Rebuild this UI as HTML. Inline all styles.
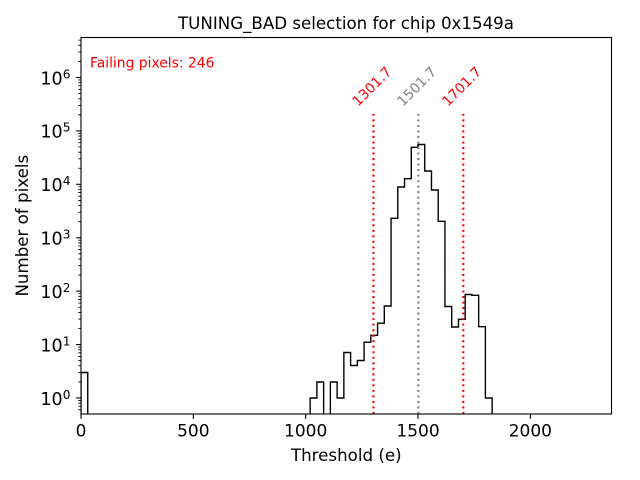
<!DOCTYPE html>
<html>
<head>
<meta charset="utf-8">
<style>
  html, body { margin: 0; padding: 0; background: #ffffff; }
  svg { display: block; }
  text { font-family: "DejaVu Sans", "Liberation Sans", sans-serif; }
</style>
</head>
<body>
<svg width="640" height="480" viewBox="0 0 640 480" xmlns="http://www.w3.org/2000/svg">
  <rect x="0" y="0" width="640" height="480" fill="#ffffff"/>
  <defs>
    <clipPath id="ax">
      <rect x="81" y="37.5" width="530.5" height="376.5"/>
    </clipPath>
  </defs>

  <!-- histogram -->
  <path clip-path="url(#ax)" fill="none" stroke="#000000" stroke-width="1.39" stroke-linejoin="miter"
    d="M81,420 V372.5 H87.74 V420 H310.16 V398 H316.9 V382 H323.64 V420 H330.38 V382 H337.12 V398 H343.86 V352.5 H350.6 V365.5 H357.34 V360.5 H364.08 V342.2 H370.82 V335.3 H377.56 V323.2 H384.3 V306 H391.04 V218.3 H397.78 V187 H404.52 V178.7 H411.26 V147.3 H418 V144.5 H424.74 V171 H431.48 V190 H438.22 V221.3 H444.96 V306.5 H451.7 V327 H458.44 V319.3 H465.18 V294.5 H471.92 V295.3 H478.66 V326.7 H485.4 V398 H492.14 V420"/>

  <!-- dotted vertical lines -->
  <g clip-path="url(#ax)" stroke-width="2.08" stroke-dasharray="2.08 3.44" fill="none">
    <line x1="373.45" y1="414" x2="373.45" y2="113.3" stroke="#ff0000"/>
    <line x1="418.38" y1="414" x2="418.38" y2="113.3" stroke="#808080"/>
    <line x1="463.32" y1="414" x2="463.32" y2="113.3" stroke="#ff0000"/>
  </g>

  <!-- rotated labels -->
  <g font-size="13.89">
    <text transform="translate(371.6,86.2) rotate(-45)" text-anchor="middle" y="5.07" fill="#ff0000">1301.7</text>
    <text transform="translate(416.5,86.2) rotate(-45)" text-anchor="middle" y="5.07" fill="#808080">1501.7</text>
    <text transform="translate(461.5,86.2) rotate(-45)" text-anchor="middle" y="5.07" fill="#ff0000">1701.7</text>
  </g>

  <!-- failing pixels text -->
  <text x="90" y="67.3" font-size="13.89" fill="#ff0000">Failing pixels: 246</text>

  <!-- spines -->
  <rect x="81" y="37.5" width="530.5" height="376.5" fill="none" stroke="#000000" stroke-width="1.11"/>

  <!-- x ticks -->
  <g stroke="#000000" stroke-width="1.11">
    <line x1="81" y1="414" x2="81" y2="418.86"/>
    <line x1="193.34" y1="414" x2="193.34" y2="418.86"/>
    <line x1="305.67" y1="414" x2="305.67" y2="418.86"/>
    <line x1="418.01" y1="414" x2="418.01" y2="418.86"/>
    <line x1="530.34" y1="414" x2="530.34" y2="418.86"/>
  </g>
  <g font-size="17" text-anchor="middle" fill="#000000">
    <text x="81" y="436.6">0</text>
    <text x="193.34" y="436.6">500</text>
    <text x="305.67" y="436.6">1000</text>
    <text x="418.01" y="436.6">1500</text>
    <text x="530.34" y="436.6">2000</text>
  </g>

  <!-- y major ticks -->
  <g stroke="#000000" stroke-width="1.11">
    <line x1="76.14" y1="398" x2="81" y2="398"/>
    <line x1="76.14" y1="344.58" x2="81" y2="344.58"/>
    <line x1="76.14" y1="291.16" x2="81" y2="291.16"/>
    <line x1="76.14" y1="237.74" x2="81" y2="237.74"/>
    <line x1="76.14" y1="184.32" x2="81" y2="184.32"/>
    <line x1="76.14" y1="130.9" x2="81" y2="130.9"/>
    <line x1="76.14" y1="77.48" x2="81" y2="77.48"/>
  </g>
  <!-- y minor ticks -->
  <path stroke="#000000" stroke-width="0.83" fill="none" d="
    M78.22,409.85H81 M78.22,406.27H81 M78.22,403.18H81 M78.22,400.45H81
    M78.22,381.92H81 M78.22,372.51H81 M78.22,365.84H81 M78.22,360.66H81 M78.22,356.43H81 M78.22,352.85H81 M78.22,349.76H81 M78.22,347.03H81
    M78.22,328.5H81 M78.22,319.09H81 M78.22,312.42H81 M78.22,307.24H81 M78.22,303.01H81 M78.22,299.43H81 M78.22,296.34H81 M78.22,293.61H81
    M78.22,275.08H81 M78.22,265.67H81 M78.22,259H81 M78.22,253.82H81 M78.22,249.59H81 M78.22,246.01H81 M78.22,242.92H81 M78.22,240.19H81
    M78.22,221.66H81 M78.22,212.25H81 M78.22,205.58H81 M78.22,200.4H81 M78.22,196.17H81 M78.22,192.59H81 M78.22,189.5H81 M78.22,186.77H81
    M78.22,168.24H81 M78.22,158.83H81 M78.22,152.16H81 M78.22,146.98H81 M78.22,142.75H81 M78.22,139.17H81 M78.22,136.08H81 M78.22,133.35H81
    M78.22,114.82H81 M78.22,105.41H81 M78.22,98.74H81 M78.22,93.56H81 M78.22,89.33H81 M78.22,85.75H81 M78.22,82.66H81 M78.22,79.93H81
    M78.22,61.4H81 M78.22,51.99H81 M78.22,45.32H81 M78.22,40.14H81"/>

  <!-- y tick labels -->
  <g fill="#000000">
    <text x="62.6" y="404.8" font-size="17.5" text-anchor="end">10</text>
    <text x="62.8" y="398.8" font-size="12.2">0</text>
    <text x="62.6" y="351.4" font-size="17.5" text-anchor="end">10</text>
    <text x="62.8" y="345.4" font-size="12.2">1</text>
    <text x="62.6" y="298" font-size="17.5" text-anchor="end">10</text>
    <text x="62.8" y="292" font-size="12.2">2</text>
    <text x="62.6" y="244.5" font-size="17.5" text-anchor="end">10</text>
    <text x="62.8" y="238.5" font-size="12.2">3</text>
    <text x="62.6" y="191.1" font-size="17.5" text-anchor="end">10</text>
    <text x="62.8" y="185.1" font-size="12.2">4</text>
    <text x="62.6" y="137.7" font-size="17.5" text-anchor="end">10</text>
    <text x="62.8" y="131.7" font-size="12.2">5</text>
    <text x="62.6" y="84.3" font-size="17.5" text-anchor="end">10</text>
    <text x="62.8" y="78.3" font-size="12.2">6</text>
  </g>

  <!-- axis labels -->
  <text x="346.25" y="461" font-size="16.67" text-anchor="middle" fill="#000000">Threshold (e)</text>
  <text transform="translate(28,225.7) rotate(-90)" font-size="16.67" text-anchor="middle" fill="#000000">Number of pixels</text>

  <!-- title -->
  <text x="346" y="29" font-size="16.67" text-anchor="middle" fill="#000000">TUNING_BAD selection for chip 0x1549a</text>
</svg>
</body>
</html>
